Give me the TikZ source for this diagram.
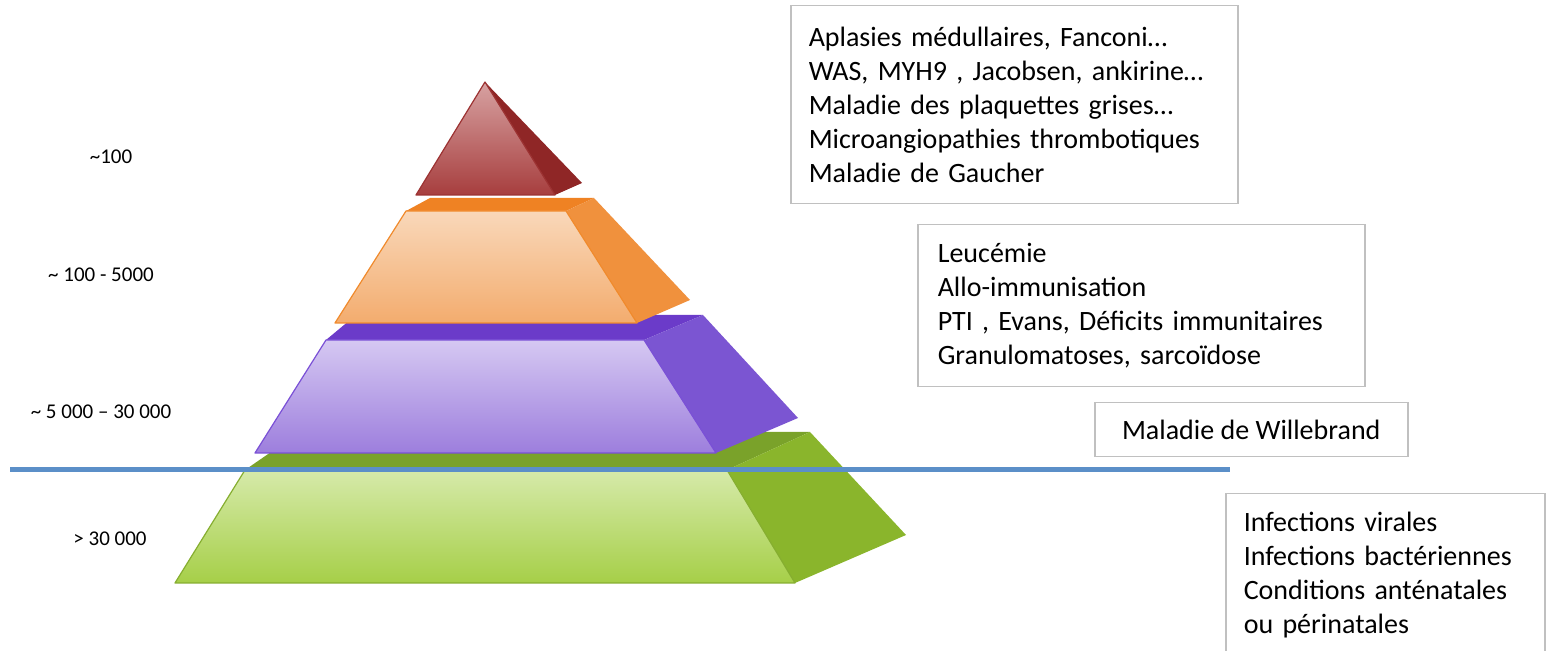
\documentclass[tikz,border=0pt]{standalone}
\usepackage{fontspec}
\setmainfont{Carlito}
\usepackage{tikz}
\usetikzlibrary{positioning}
\definecolor{redlight}{HTML}{D7A2A2}
\definecolor{reddark}{HTML}{A73E3E}
\definecolor{redside}{HTML}{8F2626}
\definecolor{rededge}{HTML}{9C3232}
\definecolor{orangetop}{HTML}{EF8223}
\definecolor{orangelight}{HTML}{F9D8BA}
\definecolor{orangedark}{HTML}{F3AC6E}
\definecolor{orangeside}{HTML}{F0913D}
\definecolor{orangeedge}{HTML}{F08A2C}
\definecolor{purpletop}{HTML}{6B3BC9}
\definecolor{purplelight}{HTML}{D5C8F2}
\definecolor{purpledark}{HTML}{9D7EDD}
\definecolor{purpleside}{HTML}{7B55D2}
\definecolor{purpleedge}{HTML}{7A50D6}
\definecolor{greentop}{HTML}{7AA22A}
\definecolor{greenlight}{HTML}{D6EAAA}
\definecolor{greendark}{HTML}{A6CF48}
\definecolor{greenside}{HTML}{8AB52C}
\definecolor{greenedge}{HTML}{86AE30}
\definecolor{cutblue}{HTML}{5B8FC8}
\definecolor{boxgray}{HTML}{C0C0C0}
\tikzset{
  causebox/.style={draw=boxgray,line width=0.75pt,fill=white,inner xsep=9pt,
    font=\fontsize{14pt}{17pt}\selectfont},
  countlbl/.style={inner sep=0pt,font=\fontsize{10.5pt}{12.6pt}\selectfont},
  frontface/.style={line width=0.6pt,line join=round},
  cutline/.style={cutblue,line width=2.5pt}
}

\begin{document}
\begin{tikzpicture}[x=0.5pt,y=-0.5pt]
  \useasboundingbox (0,0) rectangle (1548,651);
  \clip (0,0) rectangle (1548,651);
  % base tier
  \fill[greentop] (245,470) -- (300,432) -- (810,432) -- (727,470) -- cycle;
  \fill[greenside] (727,470) -- (810,432) -- (906,535) -- (795,583) -- cycle;
  \shade[frontface,draw=greenedge,top color=greenlight,bottom color=greendark]
    (245,470) -- (727,470) -- (795,583) -- (175,583) -- cycle;
  % second tier
  \fill[purpletop] (326,340) -- (356,315) -- (703,315) -- (644,340) -- cycle;
  \fill[purpleside] (644,340) -- (703,315) -- (798,418) -- (716,453) -- cycle;
  \shade[frontface,draw=purpleedge,top color=purplelight,bottom color=purpledark]
    (326,340) -- (644,340) -- (716,453) -- (255,453) -- cycle;
  % third tier
  \fill[orangetop] (406,211) -- (430,198) -- (594,198) -- (566,211) -- cycle;
  \fill[orangeside] (566,211) -- (594,198) -- (690,300) -- (637,323) -- cycle;
  \shade[frontface,draw=orangeedge,top color=orangelight,bottom color=orangedark]
    (406,211) -- (566,211) -- (637,323) -- (335,323) -- cycle;
  % top
  \fill[redside] (485,82) -- (582,183) -- (555,195) -- cycle;
  \shade[frontface,draw=rededge,top color=redlight,bottom color=reddark]
    (485,82) -- (555,195) -- (416,195) -- cycle;

  \coordinate (cut w) at (10,469.5);
  \coordinate (cut e) at (1230,469.5);
  \draw[cutline] (cut w) -- (cut e);

  \node[countlbl] (lvl4) at (111,157) {\textasciitilde100};
  \node[countlbl] (lvl3) at (101,275) {\textasciitilde{} 100 - 5000};
  \node[countlbl] (lvl2) at (101,412) {\textasciitilde{} 5 000 – 30 000};
  \node[countlbl] (lvl1) at (110,539) {> 30 000};

  \node[causebox,anchor=north west,text width=205.5pt,minimum height=99pt,align=left]
    (rare) at (790,5) {Aplasies médullaires, Fanconi…\\
      WAS, MYH9 , Jacobsen, ankirine…\\
      Maladie des plaquettes grises…\\
      Microangiopathies thrombotiques\\
      Maladie de Gaucher};
  \node[causebox,anchor=north west,inner xsep=10pt,text width=203.5pt,minimum height=81pt,align=left]
    (immune) at (917,224) {Leucémie\\
      Allo-immunisation\\
      PTI , Evans, Déficits immunitaires\\
      Granulomatoses, sarcoïdose};
  \node[causebox,anchor=north west,minimum width=156.5pt,minimum height=27pt]
    (vwd) at (1094,402) {Maladie de Willebrand};
  \node[causebox,anchor=north west,text width=141.5pt,minimum height=81.5pt,align=left]
    (common) at (1225,493) {Infections virales\\
      Infections bactériennes\\
      Conditions anténatales\\
      ou périnatales};
\end{tikzpicture}
\end{document}
